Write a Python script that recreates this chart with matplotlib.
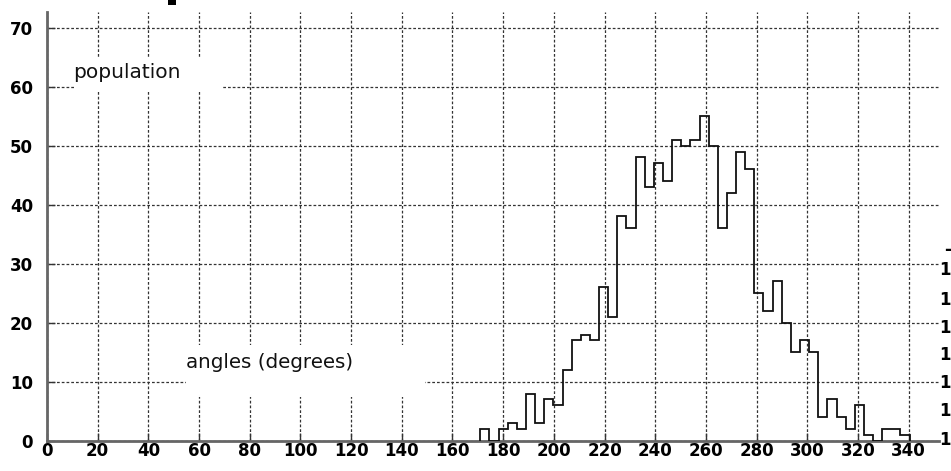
import matplotlib
matplotlib.use("Agg")
import matplotlib.pyplot as plt
from matplotlib.patches import Rectangle
import numpy as np

# histogram of angles, 47 bins between 171.0 and 340.4 degrees
bin_low = 171.0
bin_high = 340.4
counts = [2, 0, 2, 3, 2, 8, 3, 7, 6, 12,
          17, 18, 17, 26, 21, 38, 36, 48, 43, 47,
          44, 51, 50, 51, 55, 50, 36, 42, 49, 46,
          25, 22, 27, 20, 15, 17, 15, 4, 7, 4,
          2, 6, 1, 0, 2, 2, 1]
x_ticks = list(range(0, 341, 20))
y_ticks = list(range(0, 71, 10))

edges = np.linspace(bin_low, bin_high, len(counts) + 1)

fig = plt.figure(figsize=(9.51, 4.71), dpi=100)
ax = fig.add_axes([0.0494, 0.0643, 0.938, 0.9108])

ax.stairs(counts, edges, color="#111111", linewidth=1.3, zorder=3)

ax.set_xlim(0, 352)
ax.set_ylim(0, 72.7)
ax.set_xticks(x_ticks)
ax.set_yticks(y_ticks)

ax.set_axisbelow(True)
ax.grid(True, color="#333333", linewidth=0.9, linestyle=(0, (2.2, 1.6)))

for s in ["top", "right"]:
    ax.spines[s].set_visible(False)
for s in ["left", "bottom"]:
    ax.spines[s].set_color("#666666")
    ax.spines[s].set_linewidth(2)

tick_font = {"family": "DejaVu Sans", "weight": "bold", "size": 12}
ax.tick_params(axis="both", direction="in", length=6, width=1, color="#333333")
ax.tick_params(axis="x", pad=1)
ax.tick_params(axis="y", pad=10)
for lab in ax.get_xticklabels() + ax.get_yticklabels():
    lab.set_fontproperties(tick_font)

# labels sit inside the plot on white boxes
ax.add_patch(Rectangle((0.0303, 0.8128), 0.1659, 0.0792, transform=ax.transAxes,
                       facecolor="white", edgecolor="none", zorder=1))
ax.text(0.029, 0.859, "population", transform=ax.transAxes, ha="left", va="center",
        fontsize=14.5, family="DejaVu Sans", color="#111111", zorder=4)

ax.add_patch(Rectangle((0.1558, 0.1019), 0.268, 0.1212, transform=ax.transAxes,
                       facecolor="white", edgecolor="none", zorder=1))
ax.text(0.1558, 0.1834, "angles (degrees)", transform=ax.transAxes, ha="left", va="center",
        fontsize=14.3, family="DejaVu Sans", color="#111111", zorder=4)

# bits of neighbouring content cut off at the edges
fig.patches.append(Rectangle((0.1767, 0.9894), 0.0084, 0.0106, transform=fig.transFigure,
                             facecolor="black", edgecolor="none"))
for yp in [270, 300, 328, 355, 383, 411, 440]:
    fig.text(0.9995, 1 - yp / 471, "1", ha="right", va="center", **tick_font)
fig.text(0.9995, 1 - 250 / 471, "-", ha="right", va="center", **tick_font)

plt.savefig("out.png", dpi=100)
